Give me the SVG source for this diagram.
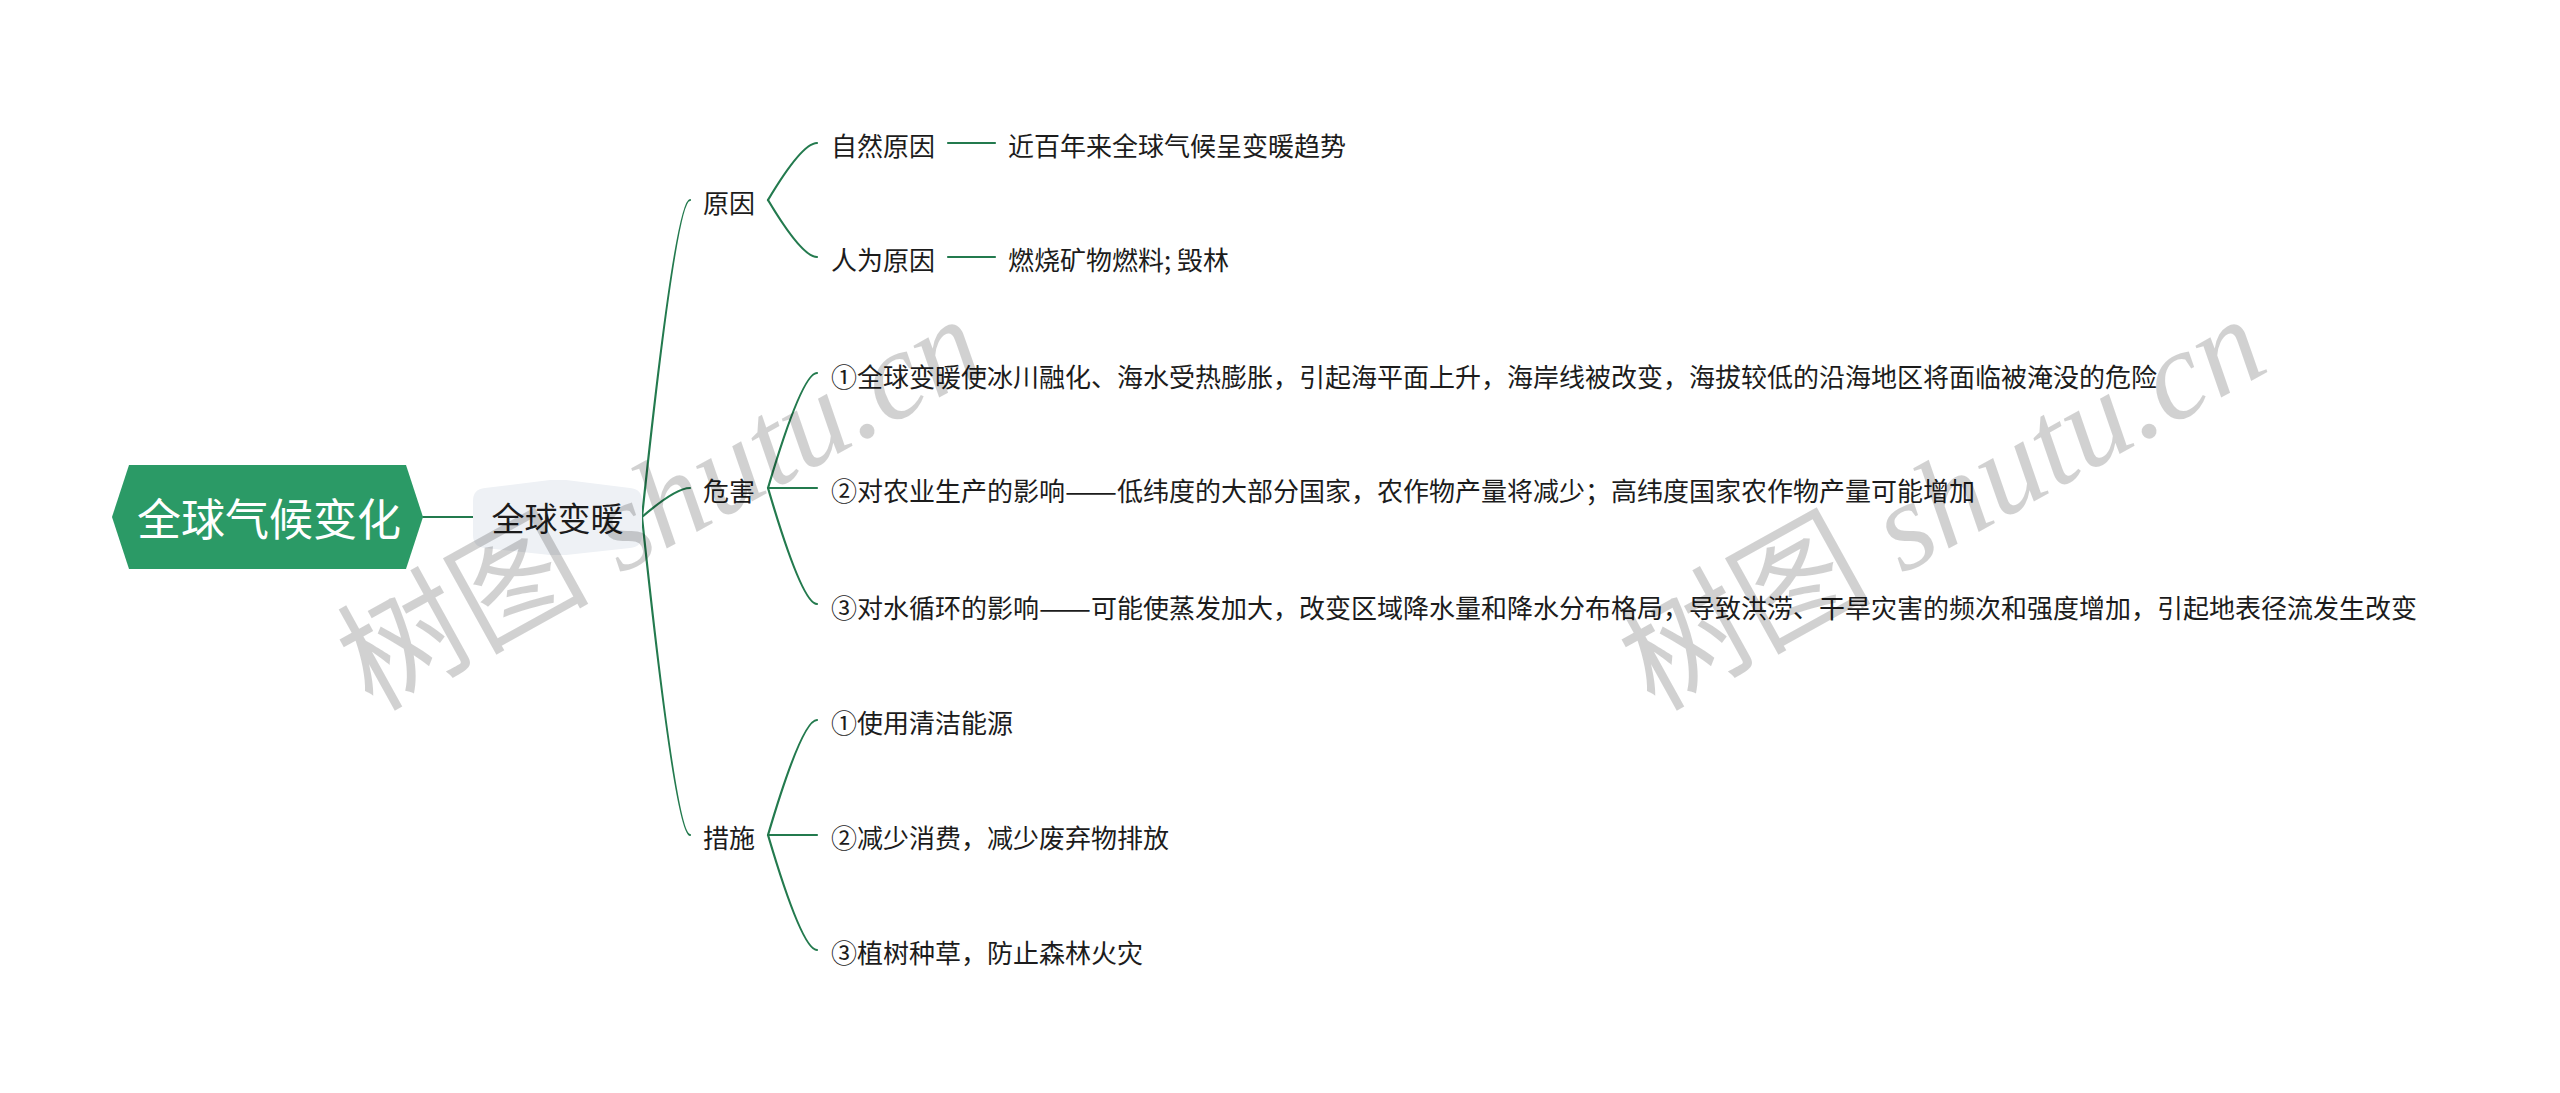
<svg xmlns="http://www.w3.org/2000/svg" width="2560" height="1093" viewBox="0 0 2560 1093">
<style>
.c{fill:none;stroke:#237a4e;stroke-width:2.2;stroke-linecap:round}
.t{font-family:"Noto Sans CJK SC","Microsoft YaHei",sans-serif;font-size:26px;fill:#1c1c1c;dominant-baseline:central}
.wm{font-size:126px;fill:#000;fill-opacity:0.18}
.wmc{font-family:"Noto Sans CJK SC",sans-serif}
.wms{font-family:"Liberation Serif",serif;font-style:italic}
</style>
<rect width="2560" height="1093" fill="#fff"/>
<g id="connectors">
<line class="c" x1="423" y1="517" x2="475" y2="517" stroke-width="2.6"/>
<path class="c" d="M642 517 Q675.6 200 690 200"/>
<path class="c" d="M642 517 Q675.6 488 690 488"/>
<path class="c" d="M642 517 Q675.6 835 690 835"/>
<path class="c" d="M768 200 Q802 143 817 143"/>
<path class="c" d="M768 200 Q802 257 817 257"/>
<line class="c" x1="948" y1="143" x2="995" y2="143"/>
<line class="c" x1="948" y1="257" x2="995" y2="257"/>
<path class="c" d="M768 488 Q802 373 817 373"/>
<path class="c" d="M768 488 L817 488"/>
<path class="c" d="M768 488 Q802 604 817 604"/>
<path class="c" d="M768 835 Q802 720 817 720"/>
<path class="c" d="M768 835 L817 835"/>
<path class="c" d="M768 835 Q802 950 817 950"/>
</g>
<g id="root">
<polygon points="112,517 129,465 406,465 423,517 406,569 129,569" fill="#2b9a66"/>
<text x="269" y="517" text-anchor="middle" class="t" style="font-size:44px;fill:#fff">全球气候变化</text>
</g>
<g id="n-warming">
<path d="M485 488 L550 480 L566 480 L630 488 Q642 489 642 501 L642 535 Q642 547 630 548 L566 555 L550 555 L485 548 Q473 547 473 535 L473 501 Q473 489 485 488 Z" fill="#eef1f5"/>
<text x="557.5" y="517" text-anchor="middle" class="t" style="font-size:33px">全球变暖</text>
</g>
<g id="n-cause"><text x="703" y="201" class="t">原因</text></g>
<g id="n-harm"><text x="703" y="489" class="t">危害</text></g>
<g id="n-measure"><text x="703" y="836" class="t">措施</text></g>
<g id="n-natural"><text x="831" y="144" class="t">自然原因</text></g>
<g id="n-natural-d"><text x="1008" y="144" class="t">近百年来全球气候呈变暖趋势</text></g>
<g id="n-human"><text x="831" y="258" class="t">人为原因</text></g>
<g id="n-human-d"><text x="1008" y="258" class="t">燃烧矿物燃料; 毁林</text></g>
<g id="n-harm1"><text x="831" y="375" class="t">①全球变暖使冰川融化、海水受热膨胀，引起海平面上升，海岸线被改变，海拔较低的沿海地区将面临被淹没的危险</text></g>
<g id="n-harm2"><text x="831" y="489" class="t">②对农业生产的影响<tspan textLength="52" lengthAdjust="spacingAndGlyphs">——</tspan>低纬度的大部分国家，农作物产量将减少；高纬度国家农作物产量可能增加</text></g>
<g id="n-harm3"><text x="831" y="606" class="t">③对水循环的影响<tspan textLength="52" lengthAdjust="spacingAndGlyphs">——</tspan>可能使蒸发加大，改变区域降水量和降水分布格局，导致洪涝、干旱灾害的频次和强度增加，引起地表径流发生改变</text></g>
<g id="n-m1"><text x="831" y="721" class="t">①使用清洁能源</text></g>
<g id="n-m2"><text x="831" y="836" class="t">②减少消费，减少废弃物排放</text></g>
<g id="n-m3"><text x="831" y="951" class="t">③植树种草，防止森林火灾</text></g>
<g id="watermarks">
<text class="wm" transform="translate(372,712) rotate(-29)"><tspan class="wmc">树图</tspan><tspan class="wms"> shutu.cn</tspan></text>
<text class="wm" transform="translate(1654,712) rotate(-29)"><tspan class="wmc">树图</tspan><tspan class="wms"> shutu.cn</tspan></text>
</g>
</svg>
